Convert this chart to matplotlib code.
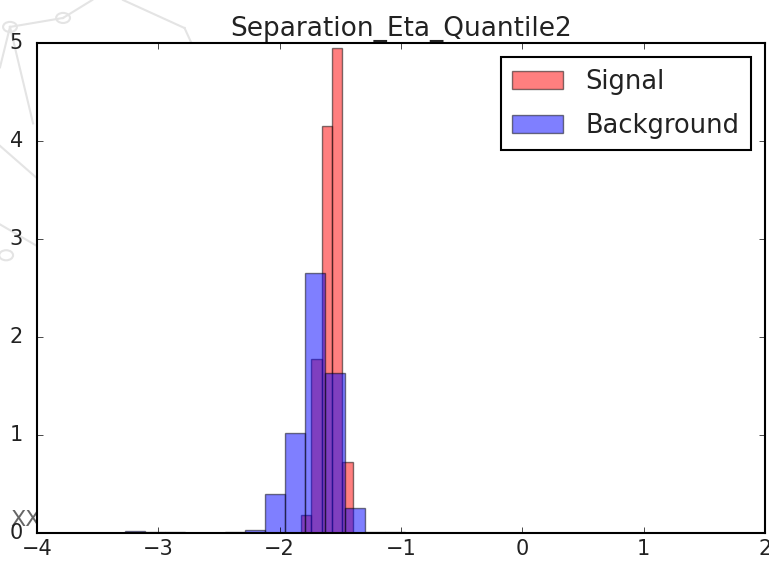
import numpy as np
import matplotlib
matplotlib.use("Agg")
from matplotlib import pyplot as plt
from matplotlib.patches import Circle

plt.style.use('classic')

# normalised histogram heights, background (wide bins) and signal (narrow bins)
bkg_start = -3.275
bkg_width = 0.1648
bkg_heights = [0.02, 0.01, 0.015, 0.0, 0.0, 0.012, 0.035, 0.40, 1.02, 2.65, 1.63, 0.26, 0.015, 0.01]

sig_start = -1.824
sig_width = 0.085
sig_heights = [0.18, 1.78, 4.15, 4.95, 0.72]

bkg_edges = bkg_start + bkg_width * np.arange(len(bkg_heights))
sig_edges = sig_start + sig_width * np.arange(len(sig_heights))

fig = plt.figure(figsize=(7.69, 5.61), dpi=100)
fig.patch.set_facecolor('white')

# faint page graphic behind the figure
wm = dict(color='#e4e4e4', lw=1.5, transform=fig.transFigure, zorder=-2)
for (x0, y0), (x1, y1) in [((0.013, 0.952), (0.082, 0.968)), ((0.082, 0.968), (0.12, 1.0)),
                           ((0.013, 0.952), (0.043, 0.78)), ((0.0, 0.88), (0.013, 0.952)),
                           ((0.16, 1.0), (0.24, 0.95)), ((0.24, 0.95), (0.25, 0.92)),
                           ((0.0, 0.74), (0.05, 0.68)), ((0.0, 0.60), (0.05, 0.56))]:
    fig.lines.append(plt.Line2D([x0, x1], [y0, y1], **wm))
for cx, cy in [(0.082, 0.968), (0.013, 0.952), (0.008, 0.545)]:
    fig.patches.append(Circle((cx, cy), 0.009, fill=False, ec='#e4e4e4', lw=1.5,
                              transform=fig.transFigure, zorder=-2))
fig.text(0.014, 0.062, 'XXX', fontsize=16, color='#666666', zorder=-1)

ax = fig.add_axes([0.0481, 0.0499, 0.9467, 0.8735])
ax.bar(sig_edges, sig_heights, width=sig_width, align='edge', color='r',
       alpha=0.5, edgecolor='k', label='Signal')
ax.bar(bkg_edges, bkg_heights, width=bkg_width, align='edge', color='b',
       alpha=0.5, edgecolor='k', label='Background')

ax.set_xlim(-4, 2)
ax.set_ylim(0, 5)
ax.set_title('Separation_Eta_Quantile2', fontsize=19, color='#222222')
ax.tick_params(labelsize=15, labelcolor='#222222')
ax.tick_params(axis='y', pad=10)
for s in ax.spines.values():
    s.set_linewidth(1.5)

leg = ax.legend(loc='upper right', fontsize=18.5, handlelength=2.0, handleheight=0.7,
                handletextpad=0.85, labelspacing=0.7, borderpad=0.45, borderaxespad=0.55)
leg.get_frame().set_linewidth(1.5)
for t in leg.get_texts():
    t.set_color('#222222')

fig.savefig('out.png', dpi=100, facecolor='white')
